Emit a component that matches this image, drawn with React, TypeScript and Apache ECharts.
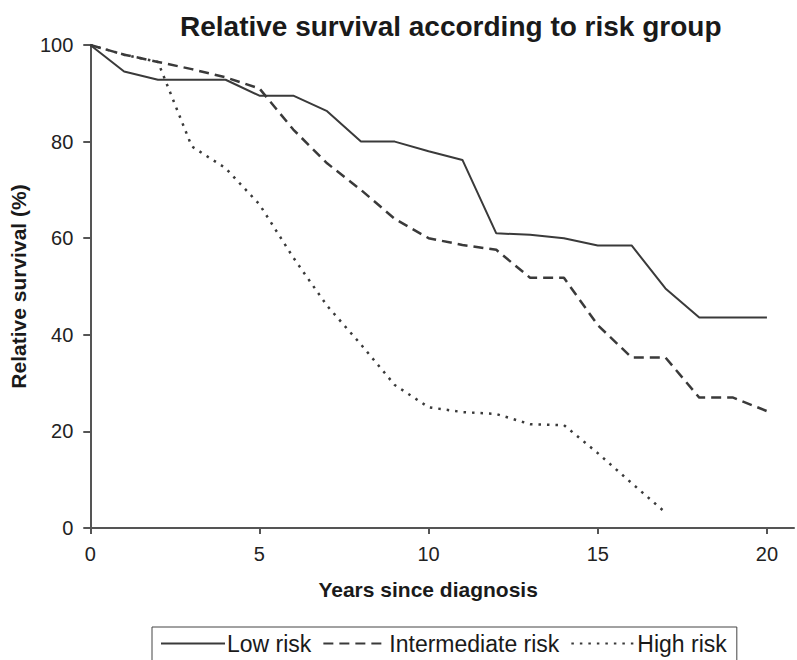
import React, { useEffect, useRef } from "react";
import * as echarts from "echarts";

const years = [0, 1, 2, 3, 4, 5, 6, 7, 8, 9, 10, 11, 12, 13, 14, 15, 16, 17, 18, 19, 20];
const lowRisk = [100, 94.5, 92.8, 92.8, 92.8, 89.5, 89.5, 86.3, 80, 80, 78, 76.2, 61, 60.7, 60, 58.5, 58.5, 49.6, 43.6, 43.6, 43.6];
const intermediateRisk = [100, 98, 96.5, 95, 93.3, 91, 82.5, 75.5, 70, 64, 60, 58.6, 57.6, 51.8, 51.8, 42, 35.3, 35.3, 27, 27, 24.2];
const highRisk = [100, 98, 96.5, 79, 74.5, 67, 56, 46, 38, 29.6, 25, 24, 23.6, 21.5, 21.3, 15.5, 9.3, 3.2];
const xTicks = [0, 5, 10, 15, 20];
const seriesNames = ["Low risk", "Intermediate risk", "High risk"];

const LINE = "#3a3a3a";
const AXIS = "#555";

export default function App() {
  const ref = useRef<HTMLDivElement>(null);
  useEffect(() => {
    if (!ref.current) return;
    const chart = echarts.init(ref.current, null, { renderer: "svg" });
    const pairs = (vals: number[]) => vals.map((v, i) => [years[i], v]);
    const font = "Liberation Sans, Arial, sans-serif";
    chart.setOption({
      animation: false,
      backgroundColor: "#fff",
      textStyle: { fontFamily: font },
      title: {
        text: "Relative survival according to risk group",
        left: 175,
        top: 7,
        textStyle: { fontSize: 28, fontWeight: "bold", color: "#1a1a1a", fontFamily: font },
      },
      grid: { left: 90, right: 3, top: 45, bottom: 132 },
      xAxis: {
        type: "value",
        min: 0,
        max: 20.8,
        interval: 5,
        name: "Years since diagnosis",
        nameLocation: "middle",
        nameGap: 51,
        nameTextStyle: { fontSize: 21, fontWeight: "bold", color: "#1a1a1a", padding: [0, 28, 0, 0] },
        axisLine: { lineStyle: { color: AXIS, width: 2 } },
        axisTick: { show: true, length: 6, customValues: xTicks, lineStyle: { color: AXIS, width: 2 } },
        axisLabel: { fontSize: 20, color: "#222", margin: 16, customValues: xTicks },
        splitLine: { show: false },
      },
      yAxis: {
        type: "value",
        min: 0,
        max: 100,
        interval: 20,
        name: "Relative survival (%)",
        nameLocation: "middle",
        nameGap: 58,
        nameTextStyle: { fontSize: 21, fontWeight: "bold", color: "#1a1a1a" },
        axisLine: { show: true, lineStyle: { color: AXIS, width: 2 } },
        axisTick: { show: true, length: 7, lineStyle: { color: AXIS, width: 2 } },
        axisLabel: { fontSize: 20, color: "#222", margin: 17 },
        splitLine: { show: false },
      },
      legend: {
        left: 152,
        top: 627,
        data: seriesNames,
        itemWidth: 64,
        itemHeight: 14,
        itemGap: 11,
        padding: [5, 10, 20, 8],
        borderColor: "#444",
        borderWidth: 1,
        itemStyle: { opacity: 0 },
        textStyle: { fontSize: 23, color: "#1a1a1a", padding: [0, 0, 0, -3] },
      },
      series: [
        {
          name: seriesNames[0],
          type: "line",
          data: pairs(lowRisk),
          symbol: "none",
          lineStyle: { color: LINE, width: 2, type: "solid" },
          itemStyle: { color: LINE },
        },
        {
          name: seriesNames[1],
          type: "line",
          data: pairs(intermediateRisk),
          symbol: "none",
          lineStyle: { color: LINE, width: 2.5, type: [10, 6] },
          itemStyle: { color: LINE },
        },
        {
          name: seriesNames[2],
          type: "line",
          data: pairs(highRisk),
          symbol: "none",
          lineStyle: { color: LINE, width: 2.5, type: [2.5, 6] },
          itemStyle: { color: LINE },
        },
      ],
    });
    return () => chart.dispose();
  }, []);
  return (
    <div
      ref={ref}
      style={{ position: "absolute", left: 0, top: 0, width: 797, height: 660 }}
    />
  );
}
